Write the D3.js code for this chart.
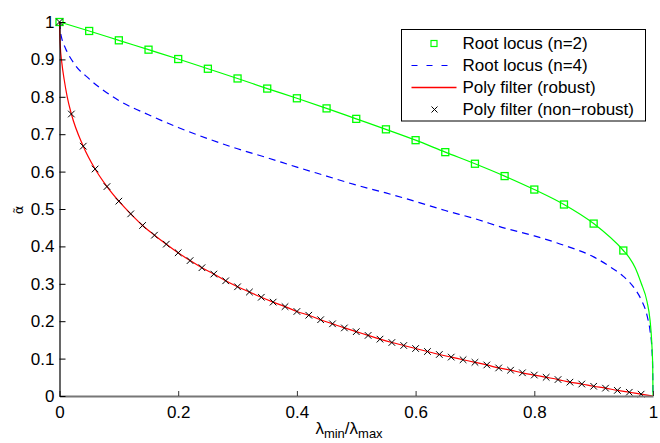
<!DOCTYPE html>
<html>
<head>
<meta charset="utf-8">
<script src="https://cdn.jsdelivr.net/npm/d3@7"></script>
<style>
  body { margin: 0; background: #fff; }
  svg { display: block; font-family: "Liberation Sans", Arial, Helvetica, sans-serif; }
</style>
</head>
<body>
<div id="chart"></div>
<script>
// values
const n2MarkX = [0, 0.05, 0.1, 0.15, 0.2, 0.25, 0.3, 0.35, 0.4, 0.45, 0.5, 0.55, 0.6, 0.65, 0.7, 0.75, 0.8, 0.85, 0.9, 0.95];
const n2MarkY = [1, 0.976, 0.951, 0.926, 0.901, 0.875, 0.849, 0.822, 0.796, 0.769, 0.741, 0.713, 0.684, 0.652, 0.621, 0.588, 0.552, 0.512, 0.461, 0.389];
// steep end of the n=2 curve near 1
const n2TailX = [0.96, 0.97, 0.98, 0.99, 0.995, 0.998, 0.9995, 1];
const n2TailY = [0.37, 0.343, 0.302, 0.252, 0.203, 0.14, 0.08, 0];

const n4X = [0, 0.002, 0.004, 0.01, 0.025, 0.05, 0.1, 0.15, 0.2, 0.25, 0.3, 0.35, 0.4, 0.45, 0.5, 0.55, 0.6, 0.65, 0.7, 0.75, 0.8, 0.85, 0.9, 0.93, 0.95, 0.97, 0.98, 0.99, 0.995, 0.998, 0.9995, 1];
const n4Y = [1, 0.97, 0.955, 0.93, 0.888, 0.848, 0.79, 0.752, 0.718, 0.688, 0.661, 0.637, 0.612, 0.588, 0.564, 0.543, 0.52, 0.496, 0.474, 0.449, 0.428, 0.403, 0.372, 0.343, 0.32, 0.285, 0.258, 0.215, 0.175, 0.13, 0.07, 0];

const polyX = [0, 0.02, 0.04, 0.06, 0.08, 0.1, 0.12, 0.14, 0.16, 0.18, 0.2, 0.22, 0.24, 0.26, 0.28, 0.3, 0.32, 0.34, 0.36, 0.38, 0.4, 0.42, 0.44, 0.46, 0.48, 0.5, 0.52, 0.54, 0.56, 0.58, 0.6, 0.62, 0.64, 0.66, 0.68, 0.7, 0.72, 0.74, 0.76, 0.78, 0.8, 0.82, 0.84, 0.86, 0.88, 0.9, 0.92, 0.94, 0.96, 0.98];
const polyY = [1, 0.754, 0.668, 0.607, 0.56, 0.521, 0.487, 0.456, 0.43, 0.406, 0.383, 0.362, 0.343, 0.326, 0.308, 0.292, 0.278, 0.264, 0.251, 0.239, 0.226, 0.216, 0.204, 0.193, 0.182, 0.172, 0.162, 0.152, 0.143, 0.135, 0.127, 0.119, 0.111, 0.104, 0.097, 0.09, 0.083, 0.075, 0.069, 0.062, 0.056, 0.05, 0.044, 0.037, 0.032, 0.026, 0.021, 0.015, 0.01, 0.005];
// robust curve: extra points near 0 and the end point
const robustHeadX = [0, 0.001, 0.004, 0.008, 0.013];
const robustHeadY = [1, 0.945, 0.89, 0.845, 0.8];
const robustEndX = [1];
const robustEndY = [0];

const xTicks = [0, 0.2, 0.4, 0.6, 0.8, 1];
const yTicks = [0, 0.1, 0.2, 0.3, 0.4, 0.5, 0.6, 0.7, 0.8, 0.9, 1];
const legendLabels = ["Root locus (n=2)", "Root locus (n=4)", "Poly filter (robust)", "Poly filter (non\u2212robust)"];

// set the dimensions and margins of the graph
let margin = {top: 22, right: 7, bottom: 47, left: 59.5},
    width = 660 - margin.left - margin.right,
    height = 443 - margin.top - margin.bottom;

let svg = d3.select("#chart")
  .append("svg")
    .attr("width", 660)
    .attr("height", 443);

let g = svg.append("g")
    .attr("transform", "translate(" + margin.left + "," + margin.top + ")");

// Scales
let x = d3.scaleLinear().domain([0, 1]).range([0, width]);
let y = d3.scaleLinear().domain([0, 1]).range([height, 0]);

let zip = function(xs, ys) { return xs.map(function(v, i) { return [v, ys[i]]; }); };

let line = d3.line()
    .x(function(d) { return x(d[0]); })
    .y(function(d) { return y(d[1]); })
    .curve(d3.curveMonotoneX);

// lines
g.append("path")
    .datum(zip(n4X, n4Y))
    .attr("fill", "none")
    .attr("stroke", "#0000ff")
    .attr("stroke-width", 1.2)
    .attr("stroke-dasharray", "7,5")
    .attr("d", line);

g.append("path")
    .datum(zip(n2MarkX.concat(n2TailX), n2MarkY.concat(n2TailY)))
    .attr("fill", "none")
    .attr("stroke", "#00ff00")
    .attr("stroke-width", 1.2)
    .attr("d", line);

g.append("path")
    .datum(zip(robustHeadX.concat(polyX.slice(1), robustEndX), robustHeadY.concat(polyY.slice(1), robustEndY)))
    .attr("fill", "none")
    .attr("stroke", "#ff0000")
    .attr("stroke-width", 1.2)
    .attr("d", line);

// square markers (n=2)
let sq = 7;
g.append("g")
  .selectAll("rect")
  .data(zip(n2MarkX, n2MarkY))
  .enter()
  .append("rect")
    .attr("x", function(d) { return x(d[0]) - sq / 2; })
    .attr("y", function(d) { return y(d[1]) - sq / 2; })
    .attr("width", sq)
    .attr("height", sq)
    .attr("fill", "none")
    .attr("stroke", "#00ff00")
    .attr("stroke-width", 1.3);

// cross markers (non-robust)
let cr = 3.3;
let cross = function(cx, cy) {
  return "M" + (cx - cr) + "," + (cy - cr) + "L" + (cx + cr) + "," + (cy + cr) +
         "M" + (cx - cr) + "," + (cy + cr) + "L" + (cx + cr) + "," + (cy - cr);
};
g.append("g")
  .selectAll("path")
  .data(zip(polyX, polyY))
  .enter()
  .append("path")
    .attr("d", function(d) { return cross(x(d[0]), y(d[1])); })
    .attr("stroke", "#000")
    .attr("stroke-width", 1);

// axes
let xAxis = g.append("g")
    .attr("transform", "translate(0," + height + ")")
    .call(d3.axisBottom(x).tickValues(xTicks).tickSizeInner(-5).tickSizeOuter(0).tickPadding(10)
      .tickFormat(function(d) { return d3.format("")(d); }));
xAxis.select(".domain").attr("stroke", "#777").attr("stroke-width", 2);
xAxis.selectAll(".tick line").attr("stroke", "#333");
xAxis.selectAll("text").style("font-size", "17px").attr("fill", "#000");

let yAxis = g.append("g")
    .call(d3.axisLeft(y).tickValues(yTicks).tickSizeInner(-6).tickSizeOuter(0).tickPadding(5)
      .tickFormat(function(d) { return d3.format("")(d); }));
yAxis.select(".domain").attr("stroke", "#000").attr("stroke-width", 1.2);
yAxis.selectAll(".tick line").attr("stroke", "#000");
yAxis.selectAll("text").style("font-size", "17px").attr("fill", "#000");

// axis labels
let xl = svg.append("text")
    .attr("x", 349)
    .attr("y", 434)
    .attr("text-anchor", "middle")
    .style("font-size", "17px");
xl.append("tspan").text("\u03bb");
xl.append("tspan").text("min").style("font-size", "13px").attr("dy", 4);
xl.append("tspan").text("/\u03bb").attr("dy", -4);
xl.append("tspan").text("max").style("font-size", "13px").attr("dy", 4);

svg.append("text")
    .attr("transform", "translate(23,210) rotate(-90)")
    .attr("text-anchor", "middle")
    .style("font-family", "'DejaVu Sans', sans-serif")
    .style("font-size", "13px")
    .text("\u03b1\u0303");

// legend
let lg = svg.append("g").attr("transform", "translate(401.5,29.5)");
lg.append("rect")
    .attr("width", 244)
    .attr("height", 91.5)
    .attr("fill", "#fff")
    .attr("stroke", "#000")
    .attr("stroke-width", 1);

let rowY = function(i) { return 14 + i * 22; };
let rows = lg.selectAll("g.row")
  .data(legendLabels)
  .enter()
  .append("g")
    .attr("class", "row")
    .attr("transform", function(d, i) { return "translate(0," + rowY(i) + ")"; });

rows.append("text")
    .attr("x", 61)
    .attr("dy", "0.35em")
    .style("font-size", "17px")
    .text(function(d) { return d; });

let sample = lg.append("g");
sample.append("rect")
    .attr("x", 32.5 - 3).attr("y", rowY(0) - 3)
    .attr("width", 6).attr("height", 6)
    .attr("fill", "none").attr("stroke", "#00ff00").attr("stroke-width", 1.2);
sample.append("line")
    .attr("x1", 10).attr("x2", 55).attr("y1", rowY(1)).attr("y2", rowY(1))
    .attr("stroke", "#0000ff").attr("stroke-width", 1.2).attr("stroke-dasharray", "6,9");
sample.append("line")
    .attr("x1", 10).attr("x2", 55).attr("y1", rowY(2)).attr("y2", rowY(2))
    .attr("stroke", "#ff0000").attr("stroke-width", 1.4);
sample.append("path")
    .attr("d", "M30,"+ (rowY(3) - 3) + "L36," + (rowY(3) + 3) + "M30," + (rowY(3) + 3) + "L36," + (rowY(3) - 3))
    .attr("stroke", "#000").attr("stroke-width", 1);
</script>
</body>
</html>
